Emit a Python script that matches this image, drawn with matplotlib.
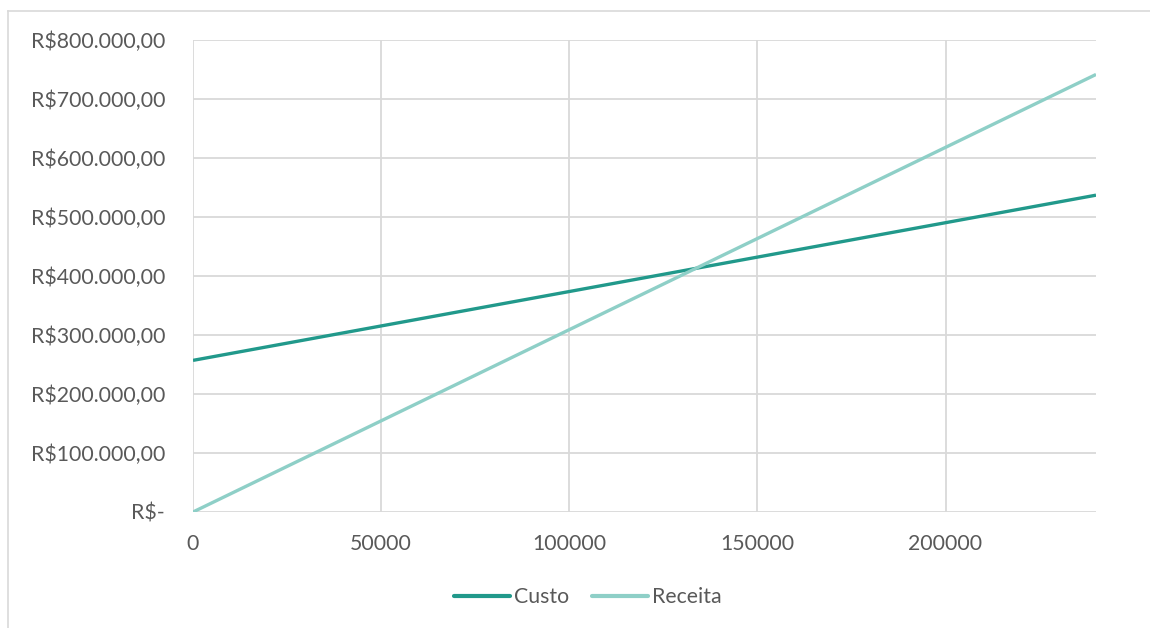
import matplotlib.pyplot as plt
from matplotlib.lines import Line2D
from matplotlib.ticker import FuncFormatter

# quantity sold vs. total cost and revenue (R$)
quantidade = [0, 240000]
custo = [257000, 537000]
receita = [0, 741600]

x_ticks = [0, 50000, 100000, 150000, 200000]
y_ticks = [0, 100000, 200000, 300000, 400000, 500000, 600000, 700000, 800000]

cor_custo = "#21998B"
cor_receita = "#8ECFC7"
cor_grade = "#D9D9D9"
cor_texto = "#595959"

plt.rcParams['font.family'] = ['Lato', 'DejaVu Sans']
fs = 15.3


def reais(v, pos):
    if v == 0:
        return "R$-"
    s = f"{v:,.2f}"
    s = s.replace(",", "X").replace(".", ",").replace("X", ".")
    return "R$" + s


fig = plt.figure(figsize=(11.5, 6.28), dpi=100)
ax = fig.add_axes([193 / 1150, 1 - 512 / 628, (1096 - 193) / 1150, (512 - 40) / 628])

ax.plot(quantidade, custo, color=cor_custo, linewidth=2.4, solid_capstyle='butt', label="Custo", zorder=3)
ax.plot(quantidade, receita, color=cor_receita, linewidth=2.4, solid_capstyle='butt', label="Receita", zorder=3)

ax.set_xlim(0, 240000)
ax.set_ylim(0, 800000)
ax.set_xticks(x_ticks)
ax.set_yticks(y_ticks)
ax.yaxis.set_major_formatter(FuncFormatter(reais))
ax.xaxis.set_major_formatter(FuncFormatter(lambda v, p: f"{int(v)}"))

ax.grid(True, color=cor_grade, linewidth=1.3, zorder=0)
for s in ax.spines.values():
    s.set_visible(False)
ax.tick_params(length=0, labelsize=fs, labelcolor=cor_texto)
ax.tick_params(axis='y', pad=20)
ax.tick_params(axis='x', pad=16)

handles = [Line2D([], [], color=cor_custo, linewidth=3, solid_capstyle='round'),
           Line2D([], [], color=cor_receita, linewidth=3, solid_capstyle='round')]
fig.legend(handles, ["Custo", "Receita"], loc='center', bbox_to_anchor=(588 / 1150, 1 - 597 / 628),
           ncol=2, frameon=False, fontsize=fs, labelcolor=cor_texto,
           handlelength=2.6, handletextpad=0.2, columnspacing=1.1)

# chart area border
fig.add_artist(Line2D([8 / 1150, 8 / 1150], [0, 1 - 11 / 628], color=cor_grade, linewidth=1.2,
                      transform=fig.transFigure))
fig.add_artist(Line2D([8 / 1150, 1], [1 - 11 / 628, 1 - 11 / 628], color=cor_grade, linewidth=1.2,
                      transform=fig.transFigure))

fig.savefig("out.png", dpi=100)
